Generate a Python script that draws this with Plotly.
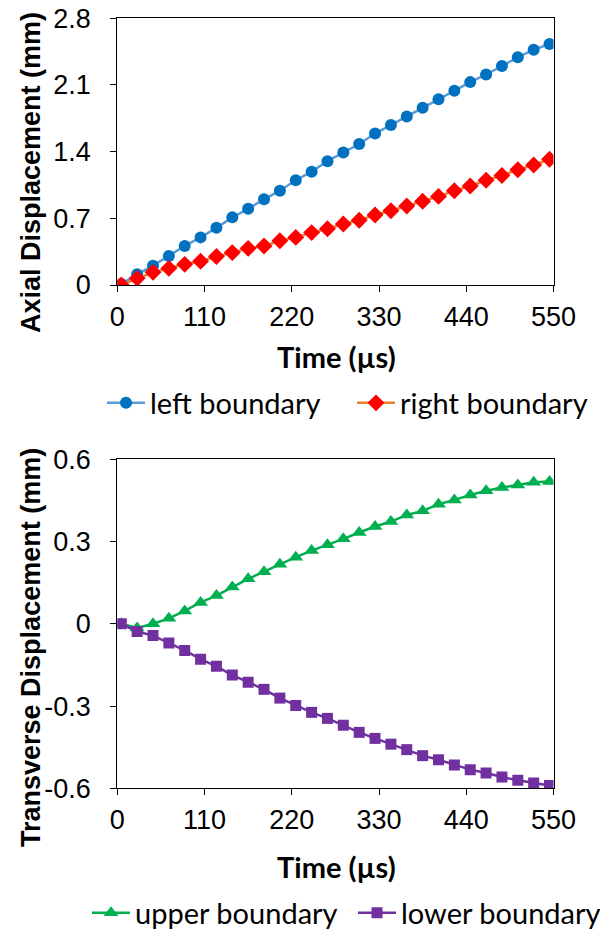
import plotly.graph_objects as go

time_us = [5, 25, 45, 65, 85, 105, 125, 145, 165, 185, 205, 225, 245, 265,
           285, 305, 325, 345, 365, 385, 405, 425, 445, 465, 485, 505, 525, 545]

left_boundary = [0.01, 0.112, 0.203, 0.305, 0.41, 0.50, 0.60, 0.71, 0.80, 0.90,
                 0.99, 1.10, 1.19, 1.30, 1.39, 1.48, 1.59, 1.68, 1.77, 1.86,
                 1.95, 2.04, 2.13, 2.21, 2.30, 2.39, 2.47, 2.53]
right_boundary = [0.0, 0.07, 0.133, 0.175, 0.217, 0.249, 0.30, 0.34, 0.385, 0.41,
                  0.465, 0.50, 0.55, 0.59, 0.64, 0.68, 0.735, 0.78, 0.83, 0.88,
                  0.93, 0.99, 1.04, 1.10, 1.15, 1.21, 1.26, 1.32]
upper_boundary = [0.0, -0.015, 0.0, 0.02, 0.047, 0.078, 0.103, 0.134, 0.164, 0.19,
                  0.217, 0.243, 0.267, 0.288, 0.31, 0.333, 0.355, 0.373, 0.397, 0.412,
                  0.436, 0.452, 0.47, 0.485, 0.497, 0.506, 0.516, 0.519]
lower_boundary = [0.0, -0.028, -0.043, -0.07, -0.097, -0.129, -0.155, -0.187, -0.213, -0.239,
                  -0.271, -0.298, -0.323, -0.345, -0.37, -0.396, -0.418, -0.439, -0.459, -0.481,
                  -0.496, -0.515, -0.532, -0.544, -0.559, -0.571, -0.581, -0.59]

x_ticks = [0, 110, 220, 330, 440, 550]
y1_ticks = [0, 0.7, 1.4, 2.1, 2.8]
y1_labels = ["0", "0.7", "1.4", "2.1", "2.8"]
y2_ticks = [-0.6, -0.3, 0, 0.3, 0.6]
y2_labels = ["-0.6", "-0.3", "0", "0.3", "0.6"]

W, H = 600, 933
def px_x(p): return p / W
def px_y(p): return 1 - p / H

tick_font = dict(family="Liberation Sans, Arial", size=27, color="#000000")
title_font_arial = dict(family="Liberation Sans, Arial", size=27, color="#000000")
legend_font = dict(family="Lato, Carlito, Calibri", size=29, color="#000000")
time_font = dict(family="Lato, Carlito, Calibri", size=29, color="#000000")

fig = go.Figure()

fig.add_trace(go.Scatter(x=time_us, y=left_boundary, mode="lines+markers",
                         name="left boundary", xaxis="x", yaxis="y", legend="legend",
                         line=dict(color="#5B9BD5", width=2.5),
                         marker=dict(symbol="circle", size=12, color="#0070C0")))
fig.add_trace(go.Scatter(x=time_us, y=right_boundary, mode="lines+markers",
                         name="right boundary", xaxis="x", yaxis="y", legend="legend2",
                         line=dict(color="#ED7D31", width=2.5),
                         marker=dict(symbol="diamond", size=13, color="#FF0000")))
fig.add_trace(go.Scatter(x=time_us, y=upper_boundary, mode="lines+markers",
                         name="upper boundary", xaxis="x2", yaxis="y2", legend="legend3",
                         line=dict(color="#00B050", width=2.5),
                         marker=dict(symbol="triangle-up", size=13, color="#00B050")))
fig.add_trace(go.Scatter(x=time_us, y=lower_boundary, mode="lines+markers",
                         name="lower boundary", xaxis="x2", yaxis="y2", legend="legend4",
                         line=dict(color="#7030A0", width=2.5),
                         marker=dict(symbol="square", size=11, color="#7030A0")))

axis_common = dict(showgrid=False, zeroline=False, showline=True, linecolor="#000000",
                   linewidth=1.3, mirror=True, ticks="outside", ticklen=6,
                   tickcolor="#000000", tickwidth=1.3, tickfont=tick_font,
                   automargin=False)

def leg(xpx, ypx):
    return dict(orientation="h", x=px_x(xpx), y=px_y(ypx), xanchor="left", yanchor="middle",
                font=legend_font, bgcolor="rgba(0,0,0,0)", itemwidth=38, tracegroupgap=0)

fig.update_layout(
    width=W, height=H,
    margin=dict(l=0, r=0, t=0, b=0, autoexpand=False),
    paper_bgcolor="white", plot_bgcolor="white",
    showlegend=True,
    xaxis=dict(domain=[px_x(117.3), px_x(553.5)], range=[0, 550], anchor="y",
               tickvals=x_ticks, ticktext=[str(v) for v in x_ticks],
               ticklabelstandoff=1, **axis_common),
    yaxis=dict(domain=[px_y(285), px_y(18.3)], range=[0, 2.8], anchor="x",
               tickvals=y1_ticks, ticktext=y1_labels, ticklabelstandoff=14, **axis_common),
    xaxis2=dict(domain=[px_x(117.3), px_x(553.5)], range=[0, 550], anchor="y2",
                tickvals=x_ticks, ticktext=[str(v) for v in x_ticks],
                ticklabelstandoff=1, **axis_common),
    yaxis2=dict(domain=[px_y(788.3), px_y(459.3)], range=[-0.6, 0.6], anchor="x2",
                tickvals=y2_ticks, ticktext=y2_labels, ticklabelstandoff=14, **axis_common),
    legend=leg(102, 403),
    legend2=leg(352, 403),
    legend3=leg(87, 913),
    legend4=leg(353, 913),
)

# axis titles
fig.add_annotation(text="<b>Time (µs)</b>", x=px_x(336), y=px_y(357), xref="paper", yref="paper",
                   showarrow=False, font=time_font, xanchor="center", yanchor="middle")
fig.add_annotation(text="<b>Time (µs)</b>", x=px_x(336), y=px_y(866), xref="paper", yref="paper",
                   showarrow=False, font=time_font, xanchor="center", yanchor="middle")
fig.add_annotation(text="<b>Axial Displacement (mm)</b>", x=px_x(31), y=px_y(173), xref="paper", yref="paper",
                   showarrow=False, textangle=-90, font=title_font_arial,
                   xanchor="center", yanchor="middle")
fig.add_annotation(text="<b>Transverse Displacement (mm)</b>", x=px_x(31), y=px_y(648), xref="paper", yref="paper",
                   showarrow=False, textangle=-90, font=title_font_arial,
                   xanchor="center", yanchor="middle")

fig.write_html("out.html")
